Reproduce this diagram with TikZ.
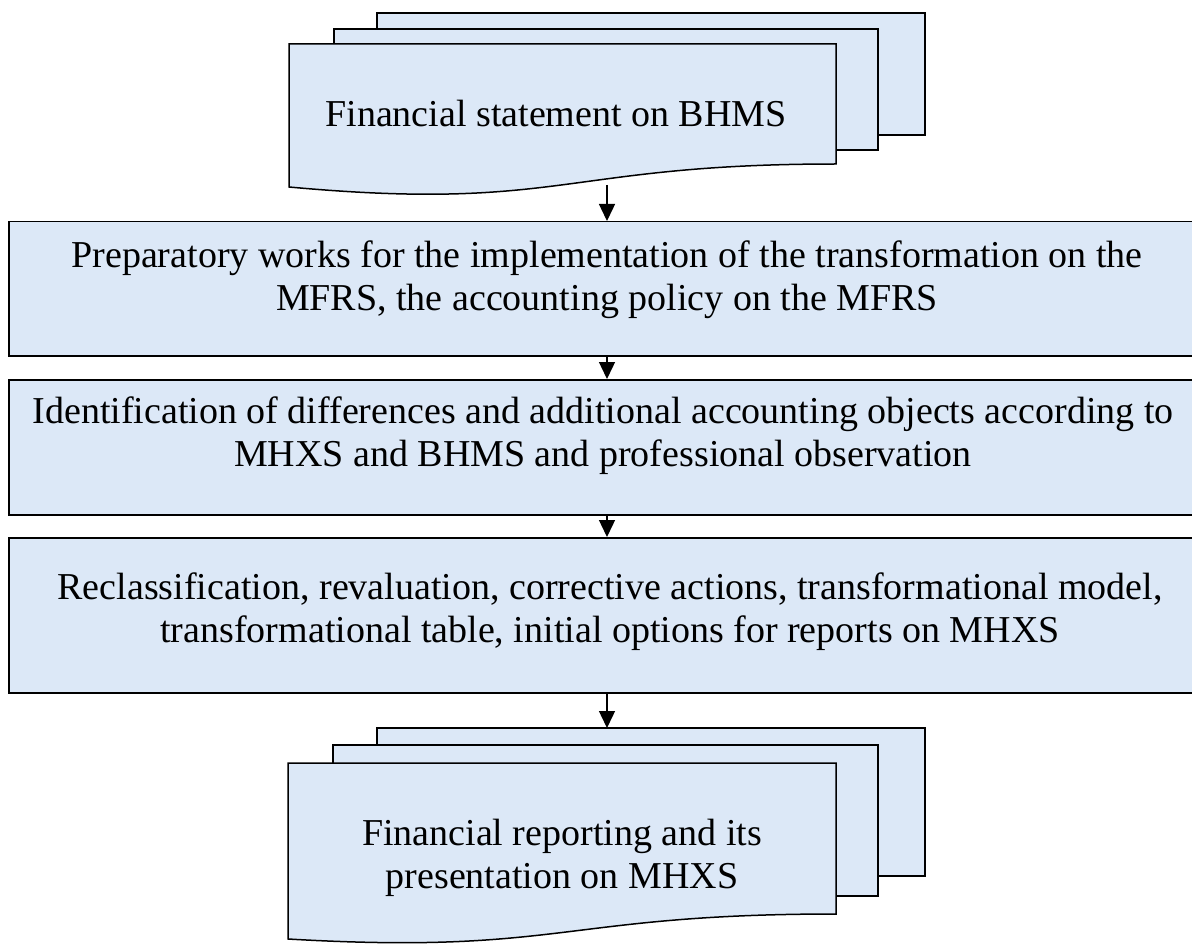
\documentclass[tikz,border=0pt]{standalone}
\usepackage{fontspec}
\setmainfont{Liberation Serif}
\usetikzlibrary{arrows.meta}
\definecolor{paper}{RGB}{220,232,247}
\tikzset{
  sheet/.style={draw=black, line width=1.5pt, fill=paper, line join=miter},
  stage/.style={draw=black, line width=1.5pt, fill=paper, minimum width=1196pt,
    inner sep=0pt, anchor=north},
  caption/.style={font=\fontsize{38}{43}\selectfont, align=center, inner sep=0pt},
  flow/.style={line width=1.4pt, -{Triangle[width=16pt,length=17pt]}}
}
\begin{document}
\begin{tikzpicture}[x=1pt,y=-1pt]
\clip (0,0) rectangle (1192,944);
\fill[white] (0,0) rectangle (1192,944);

% input: stack of financial statements
\path[sheet] (377,13) rectangle (925,135);
\path[sheet] (334,29) rectangle (878,150);
\path[sheet] (289,44) -- (836,44) -- (836,164)
  .. controls (562,164) and (562,212) .. (289,187) -- cycle;
\node[caption, anchor=base] (doc1) at (556,127) {Financial statement on BHMS};
\coordinate (doc1bot) at (607,185);

% the three processing stages
\node[stage, minimum height=134pt] (box1) at (607,221) {};
\node[caption] (t1) at (607,279.5)
  {Preparatory works for the implementation of the transformation on the\\
   MFRS, the accounting policy on the MFRS};

\node[stage, minimum height=135pt] (box2) at (607,379) {};
\node[caption] (t2) at (603,435.5)
  {Identification of differences and additional accounting objects according to\\
   MHXS and BHMS and professional observation};

\node[stage, minimum height=155pt] (box3) at (607,537) {};
\node[caption] (t3) at (610,611.5)
  {Reclassification, revaluation, corrective actions, transformational model,\\
   transformational table, initial options for reports on MHXS};

% output: stack of financial reports
\path[sheet] (377,728) rectangle (925,876);
\path[sheet] (333,745) rectangle (878,896);
\path[sheet] (288,763) -- (836,763) -- (836,914)
  .. controls (562,914) and (562,955) .. (288,939) -- cycle;
\node[caption] (doc2) at (562,858)
  {Financial reporting and its\\ presentation on MHXS};
\coordinate (doc2top) at (607,728);

% flow arrows
\draw[flow] (doc1bot) -- (box1.north);
\draw[flow] (box1.south) -- (box2.north);
\draw[flow] (box2.south) -- (box3.north);
\draw[flow] (box3.south) -- (doc2top);
\end{tikzpicture}
\end{document}
